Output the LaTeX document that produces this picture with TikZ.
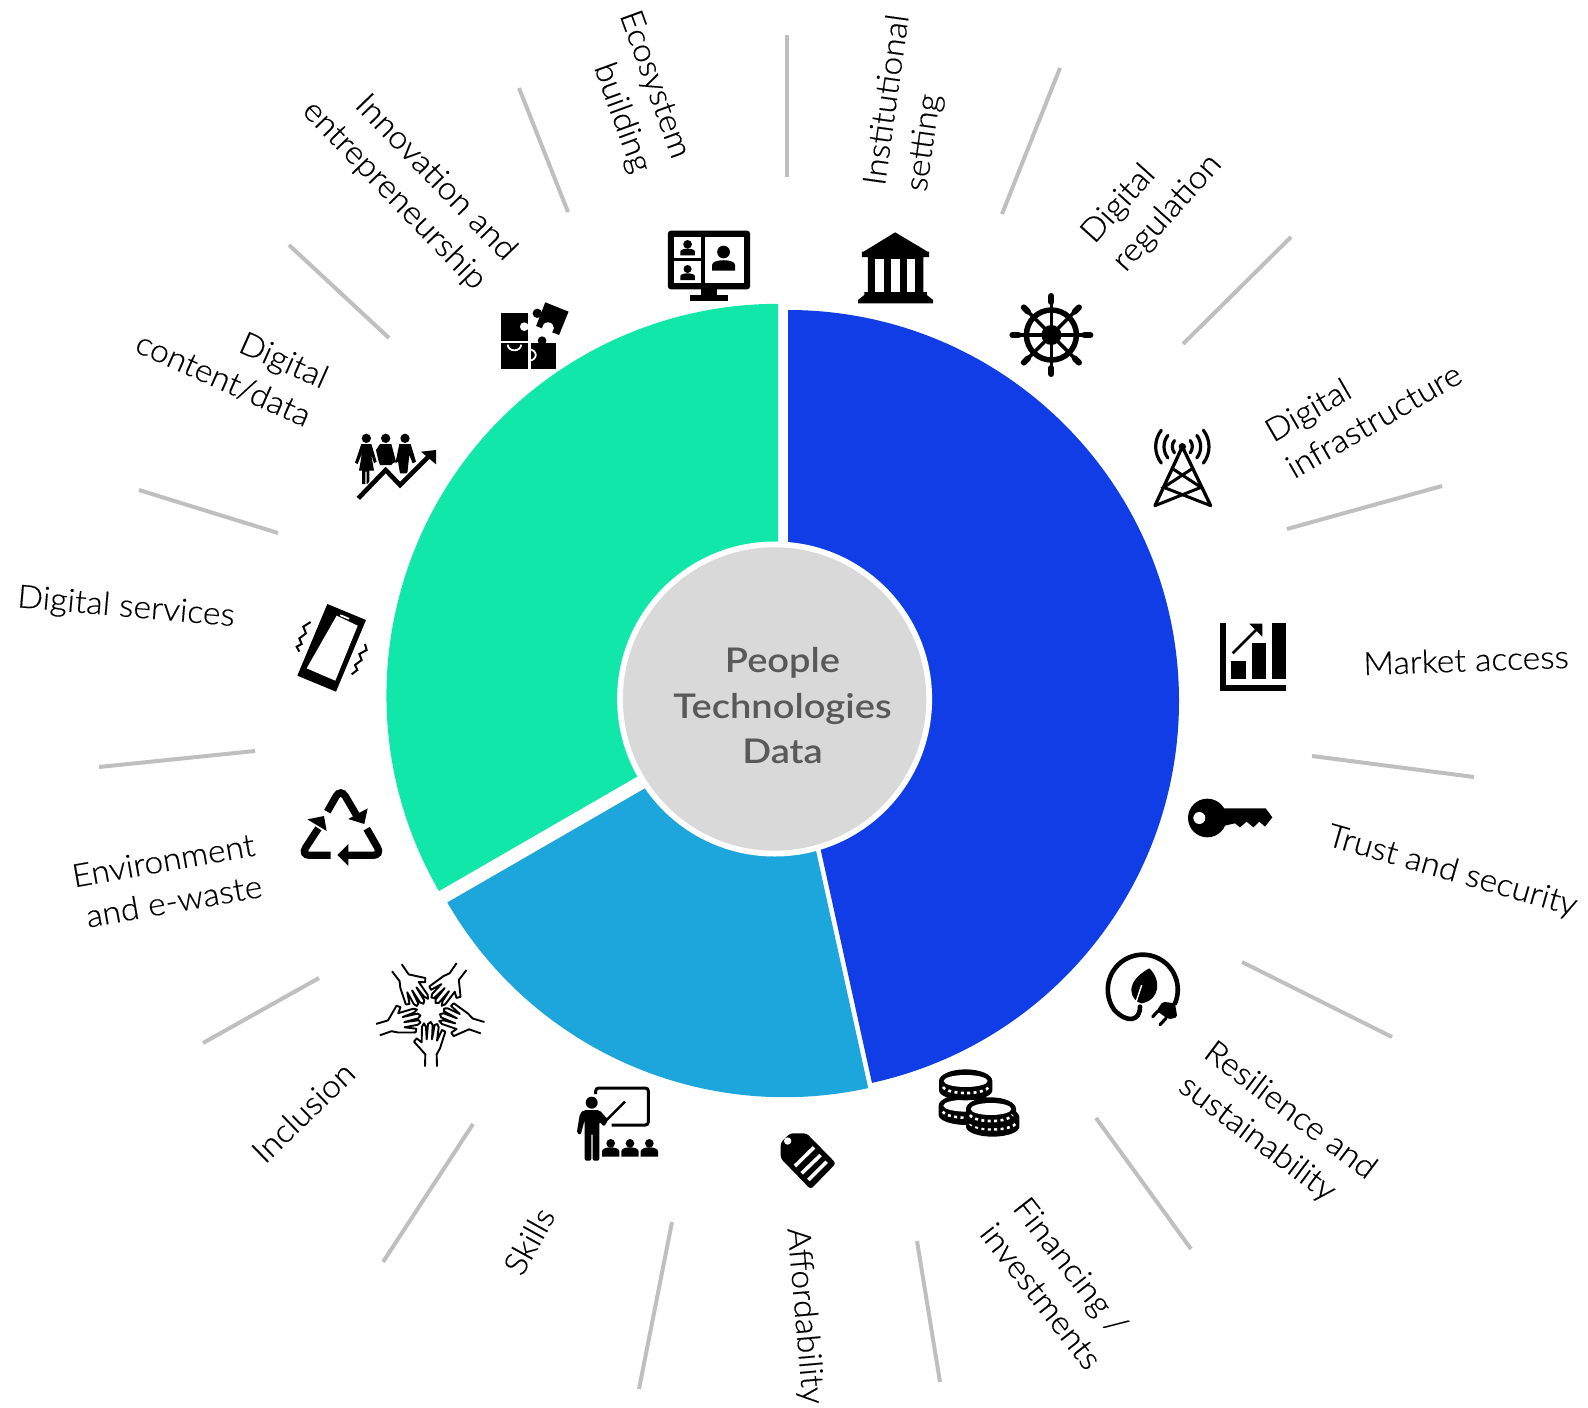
\documentclass[tikz,border=0pt]{standalone}
\usepackage{fontspec}
\usetikzlibrary{calc}
\setmainfont[FakeStretch=1.055,FakeBold=0.4]{Lato Light}
\newfontfamily\hubface[FakeStretch=1.12]{Lato Semibold}
\definecolor{segblue}{HTML}{113DE6}
\definecolor{segsky}{HTML}{1CA6DC}
\definecolor{seggreen}{HTML}{10E7A9}
\definecolor{hubgrey}{HTML}{D9D9D9}
\definecolor{hubtext}{HTML}{595959}
\definecolor{tickgrey}{HTML}{BFBFBF}
\tikzset{
    lbl/.style={font=\fontsize{32}{42}\selectfont,inner sep=0pt},
    lblr/.style={lbl,align=right},
    lbll/.style={lbl,align=left},
    tick/.style={tickgrey,line width=4pt},
    zoomA/.style={shift={(480,210)},xscale=0.3954,yscale=0.33333},
    zoomB/.style={shift={(1100,410)},scale=0.33333},
    zoomC/.style={shift={(270,420)},scale=0.33333},
    zoomD/.style={shift={(360,950)},scale=0.33333},
    zoomE/.style={shift={(920,940)},scale=0.33333}
}
\newcommand{\personicon}[6][1]{
    \fill (#2,#3-#5) ellipse ({#6*#1} and #6);
    \fill (#2-#4/2,#3) -- (#2-#4/2,#3-#4*.3) .. controls (#2-#4/2,#3-#4*.62) and (#2+#4/2,#3-#4*.62) .. (#2+#4/2,#3-#4*.3) -- (#2+#4/2,#3) -- cycle;
}
\newcommand{\coinicon}[3]{
    \fill (#1-#3,#2) -- (#1-#3,#2+28) arc (180:0:#3 and 30) -- (#1+#3,#2) arc (0:-180:#3 and 35) -- cycle;
    \fill[white] (#1,#2) ellipse ({#3-14} and 18);
    \draw[white,line width=2.6pt,dash pattern=on 3pt off 3.4pt] (#1-#3+12,#2+18) arc (170:10:#3-10 and 22);
}
\begin{document}
\begin{tikzpicture}[x=1pt,y=-1pt]
    \useasboundingbox (0,0) rectangle (1588,1408);

    \coordinate (blueC) at (788,701);
    \coordinate (skyC) at (784.6,707.7);
    \coordinate (greenC) at (778,695.3);
    \coordinate (hubC) at (774.6,699);
    \fill[segblue] (blueC) -- ++(-90:391) arc (-90:77.6:391) -- cycle;
    \fill[segsky] (skyC) -- ++(77.6:389.5) arc (77.6:150:389.5) -- cycle;
    \fill[seggreen] (greenC) -- ++(150:391.5) arc (150:270:391.5) -- cycle;
    \fill[white] (hubC) circle (157.5);
    \fill[hubgrey] (hubC) circle (151.7);
    \node[font=\hubface\fontsize{34}{45.5}\selectfont,text=hubtext,align=center,inner sep=0pt] (hub) at (782.5,706) {People\\Technologies\\Data};

    \foreach \xa/\ya/\xb/\yb in {787/35/787/177,1060/68/1002/214,1291/237/1183/344,1442/486/1287/529,
        1474/777/1312/756,1392/1037/1242/962,1191/1249/1096/1118,940/1382/917/1241,672/1222/639/1389,
        473/1124/383/1262,319/978/203/1043,255/751/99/767,139/490/278/533,289/245/389/338,519/88/568/212}
        \draw[tick] (\xa,\ya) -- (\xb,\yb);

    \node[lbll,rotate=2] (market) at (1466,660) {Market access};
    \node[lbll,rotate=-16] (trust) at (1452,872) {Trust and security};
    \node[lbll,rotate=-37] (resilience) at (1277,1128) {Resilience and\\sustainability};
    \node[lbll,rotate=-52] (financing) at (1058,1283) {Financing /\\investments};
    \node[lbll,rotate=-85] (afford) at (804,1316) {Affordability};
    \node[lbll,rotate=61] (skills) at (529,1241) {Skills};
    \node[lbll,rotate=44] (inclusion) at (303,1112) {Inclusion};
    \node[lblr,rotate=10] (environment) at (167,881) {Environment\\and e-waste};
    \node[lblr,rotate=-5] (services) at (126,608) {Digital services};
    \node[lblr,rotate=-24] (content) at (232,360) {Digital\\content/data};
    \node[lblr,rotate=-46] (innovation) at (409,181) {Innovation and\\entrepreneurship};
    \node[lblr,rotate=-70] (ecosystem) at (634,92) {Ecosystem\\building};
    \node[lbll,rotate=82] (institutional) at (909,103) {Institutional\\setting};
    \node[lbll,rotate=48] (regulation) at (1152,199) {Digital\\regulation};
    \node[lbll,rotate=30] (infrastructure) at (1363,402) {Digital\\infrastructure};

    \begin{scope}[zoomA]
        \fill[rounded corners=3pt] (475,62) rectangle (683,238);
        \fill (558,238) rectangle (600,255);
        \fill (532,255) rectangle (627,274);
        \fill[white] (491,81) rectangle (560,145);
        \fill[white] (491,154) rectangle (560,218);
        \fill[white] (568,81) rectangle (668,218);
        \personicon[.85]{525}{136}{37}{33}{13}
        \personicon[.85]{525}{210}{37}{33}{12}
        \personicon[.85]{616}{182}{58}{56}{19}

        \fill (1050,67) -- (1132,125) -- (1136,125) -- (1136,141) -- (1121,141) -- (1121,246) -- (1130,246) -- (1130,255) -- (1146,270) -- (1146,280)
            -- (956,280) -- (956,270) -- (972,255) -- (972,246) -- (981,246) -- (981,141) -- (966,141) -- (966,125) -- (970,125) -- cycle;
        \fill[white] (1000,146) rectangle (1021,247);
        \fill[white] (1040,146) rectangle (1061,247);
        \fill[white] (1081,146) rectangle (1101,247);

        \fill (52,310) rectangle (122,392);
        \fill[white] (112,350) ellipse (11 and 13);
        \fill (52,400) rectangle (122,476);
        \fill (128,400) rectangle (192,476);
        \fill (157,392) ellipse (11 and 13);
        \fill (165,277) -- (224,305) -- (200,375) -- (142,348) -- cycle;
        \fill (145,310) ellipse (12 and 14);
        \fill[white] (172,354) ellipse (15 and 17);
        \draw[white,line width=1.8pt] (70,404) arc (180:0:17);
        \draw[white,line width=1.8pt] (124,418) arc (-90:90:17);
    \end{scope}

    \coordinate (wheelC) at (1051.4,335);
    \draw[line width=5.5pt] (wheelC) circle (25);
    \fill (wheelC) circle (10);
    \foreach \ang in {0,45,...,315} {
        \draw[line width=3.6pt] (wheelC) -- ++(\ang:35);
        \draw[line width=6pt,line cap=round] ($(wheelC)+(\ang:33)$) -- ($(wheelC)+(\ang:39)$);
    }

    \begin{scope}[zoomB]
        \coordinate (towerC) at (247,110);
        \fill (towerC) circle (11);
        \draw[line width=3.3pt,line join=round,line cap=round] (165,287) -- (towerC) -- (332,287);
        \draw[line width=3pt,line cap=round] (216,175) -- (303,232) -- (165,287);
        \draw[line width=3pt,line cap=round] (278,175) -- (191,232) -- (332,287);
        \foreach \rad in {30,55,80} {
            \draw[line width=3.2pt,line cap=round] ($(towerC)+(-38:\rad)$) arc (-38:38:\rad);
            \draw[line width=3.2pt,line cap=round] ($(towerC)+(142:\rad)$) arc (142:218:\rad);
        }

        \fill (360,640) rectangle (377,843);
        \fill (360,825) rectangle (558,843);
        \fill (394,752) rectangle (437,808);
        \fill (455,699) rectangle (498,808);
        \fill (516,640) rectangle (558,808);
        \draw[line width=2.8pt] (398,730) -- (470,658);
        \fill (448,641) -- (487,641) -- (487,680) -- cycle;

        \fill (322,1224) circle (58);
        \fill[white] (298,1224) circle (18);
        \fill (360,1195) -- (497,1195) -- (517,1222) -- (495,1250) -- (478,1235) -- (460,1252) -- (440,1235) -- (420,1252) -- (405,1240) -- (360,1250) -- cycle;
    \end{scope}

    \begin{scope}[zoomC]
        \foreach \cx in {289,347,405}
            \fill (\cx,55) circle (14);
        \fill (274,72) -- (304,72) -- (320,125) -- (312,130) -- (303,100) -- (312,152) -- (298,152) -- (298,192) -- (290,192) -- (290,155) -- (286,155) -- (286,192) -- (276,192) -- (276,152) -- (267,152) -- (276,100) -- (263,132) -- (255,128) -- cycle;
        \fill (330,72) -- (364,72) -- (378,125) -- (368,130) -- (364,135) -- (330,135) -- (326,125) -- (318,90) -- cycle;
        \fill (388,72) -- (422,72) -- (438,125) -- (428,130) -- (418,105) -- (412,160) -- (390,160) -- (384,125) -- (376,130) -- cycle;
        \draw[white,line width=7pt] (265,235) -- (347,150) -- (390,195) -- (475,110);
        \draw[line width=4.6pt] (265,235) -- (347,150) -- (390,195) -- (475,110);
        \fill (453,95) -- (498,90) -- (498,133) -- cycle;

        \fill (172,552) -- (288,600) -- (198,815) -- (82,767) -- cycle;
        \fill[white] (200,587) -- (263,617) -- (196,782) -- (110,745) -- cycle;
        \draw[white,line width=1.8pt,line cap=round] (212,586) -- (236,596);
        \draw[line width=2pt] (122,606) -- (100,620) -- (108,640) -- (88,655) -- (95,672) -- (80,680) -- (88,695);
        \draw[line width=2pt] (285,672) -- (290,690) -- (268,702) -- (275,720) -- (255,735) -- (262,750) -- (245,763);

        \draw[line width=7.3pt,rounded corners=9pt] (172,1175) -- (212,1105) -- (262,1190);
        \fill (235,1197) -- (293,1165) -- (283,1212) -- cycle;
        \draw[line width=7.3pt,rounded corners=9pt] (182,1306) -- (92,1306) -- (145,1225);
        \fill (112,1198) -- (162,1188) -- (170,1233) -- cycle;
        \draw[line width=7.3pt,rounded corners=9pt] (290,1226) -- (336,1306) -- (232,1306);
        \fill (202,1305) -- (235,1272) -- (235,1338) -- cycle;
    \end{scope}

    \begin{scope}[zoomD]
        \foreach \ang in {0,72,144,216,288}
            \draw[line width=1.9pt,line join=round,rotate around={\ang:(210,185)}] (195,350) -- (196,313) -- (180,295) -- (162,275) -- (170,265) -- (185,277) -- (186,230)
                -- (192,220) -- (198,232) -- (200,268) -- (204,222) -- (212,216) -- (218,225) -- (216,268) -- (224,225) -- (232,222) -- (236,232) -- (231,272) -- (246,240) -- (256,245) -- (240,295) -- (230,313) -- (231,350);

        \fill (695,458) circle (18);
        \draw[line width=3pt,rounded corners=3pt] (707,432) -- (707,414) -- (865,414) -- (865,525) -- (755,525);
        \draw[line width=2.4pt] (735,515) -- (795,455);
        \fill[rounded corners=2pt] (672,480) -- (718,480) -- (745,510) -- (732,530) -- (718,515) -- (718,632) -- (698,632) -- (698,550) -- (694,550) -- (694,632) -- (674,632) -- (674,510) -- (662,555) -- (650,550) -- (660,490) -- cycle;
        \personicon{752}{620}{52}{40}{13}
        \personicon{810}{620}{52}{40}{13}
        \personicon{868}{620}{52}{40}{13}

        \fill[rounded corners=3pt] (1290,550) -- (1340,550) -- (1428,640) -- (1352,718) -- (1262,625) -- (1262,578) -- cycle;
        \fill[white] (1283,573) circle (11);
        \draw[white,line width=3.6pt] (1362,592) -- (1305,648);
        \draw[white,line width=3.6pt] (1382,615) -- (1325,670);
        \draw[white,line width=3.6pt] (1400,635) -- (1345,690);
    \end{scope}

    \begin{scope}[zoomE]
        \draw[line width=4.6pt,line cap=round] (765,190) arc (23:-215:105) .. controls (620,250) and (660,245) .. (660,200);
        \fill (688,85) .. controls (725,120) and (720,180) .. (665,190) .. controls (635,185) and (605,130) .. (688,85);
        \draw[white,line width=1.4pt] (665,135) -- (645,195);
        \fill[rounded corners=2pt] (728,185) -- (765,190) -- (772,232) -- (745,238) -- (710,212) -- cycle;
        \draw[line width=3.2pt,line cap=round] (715,212) -- (698,230);
        \draw[line width=3.2pt,line cap=round] (738,235) -- (720,254);

        \coinicon{140}{497}{84}
        \coinicon{137}{423}{80}
        \fill[white] (140,510) -- (140,575) arc (180:90:78 and 28) -- (300,605) -- (300,480) -- (218,472) -- cycle;
        \coinicon{218}{532}{80}
        \coinicon{213}{507}{75}
    \end{scope}
\end{tikzpicture}
\end{document}
